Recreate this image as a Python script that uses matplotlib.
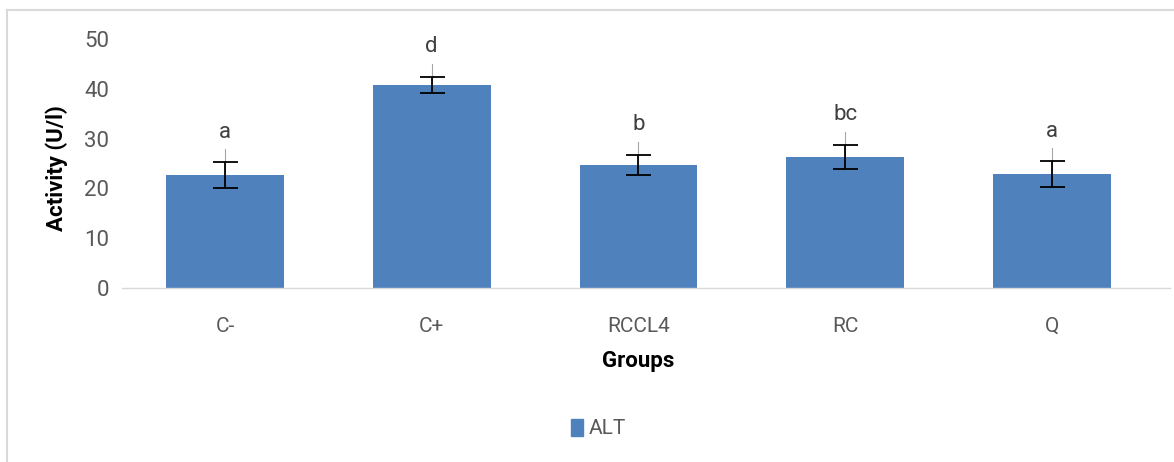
import matplotlib.pyplot as plt
from matplotlib.lines import Line2D
from matplotlib.patches import Patch

groups = ['C-', 'C+', 'RCCL4', 'RC', 'Q']
alt = [22.7, 40.8, 24.7, 26.3, 22.9]
alt_err = [2.6, 1.6, 2.1, 2.5, 2.6]
letters = ['a', 'd', 'b', 'bc', 'a']

plt.rcParams['font.family'] = ['Roboto', 'DejaVu Sans']

fig = plt.figure(figsize=(11.74, 4.62), dpi=100)
ax = fig.add_axes([0.1035, 0.3766, 0.8807, 0.539])

x = list(range(len(groups)))
ax.bar(x, alt, width=0.57, color='#4f81bd', zorder=2)

# leader lines from bar to letter
for i in x:
    ax.plot([i, i], [alt[i], alt[i] + alt_err[i] + 2.6], color='#a6a6a6', lw=0.8, zorder=3)
    ax.text(i, alt[i] + alt_err[i] + 6, letters[i], ha='center', va='center',
            fontsize=16, color='#404040')

ax.errorbar(x, alt, yerr=alt_err, fmt='none', ecolor='black', elinewidth=1.3,
            capsize=9, capthick=1.3, zorder=4)

ax.set_xlim(-0.5, len(groups) - 0.5)
ax.set_ylim(0, 50)
ax.set_yticks([0, 10, 20, 30, 40, 50])
ax.set_xticks(x)
ax.set_xticklabels(groups)
ax.tick_params(axis='y', length=0, pad=9, labelsize=16, labelcolor='#595959')
ax.tick_params(axis='x', length=0, pad=21, labelsize=15, labelcolor='#595959')
for s in ['top', 'right', 'left', 'bottom']:
    ax.spines[s].set_visible(False)
# x axis line runs a bit past the last category
ax.plot([0, 1.014], [0, 0], transform=ax.transAxes, color='#d9d9d9', lw=1, clip_on=False)

ax.set_ylabel('Activity (U/l)', fontsize=16, fontweight='bold')
ax.yaxis.set_label_coords(-0.052, 0.48)
ax.set_xlabel('Groups', fontsize=16, fontweight='bold', labelpad=10)

leg = fig.legend(handles=[Patch(color='#4f81bd', label='ALT')], loc='center',
                 bbox_to_anchor=(0.51, 0.072), frameon=False, fontsize=15,
                 handlelength=0.55, handleheight=0.85, handletextpad=0.3)
for t in leg.get_texts():
    t.set_color('#595959')

# chart border (cut off at right and bottom)
fig.add_artist(Line2D([7 / 1174, 7 / 1174], [0, 1 - 10 / 462], color='#d9d9d9', lw=1.5))
fig.add_artist(Line2D([7 / 1174, 1], [1 - 10 / 462, 1 - 10 / 462], color='#d9d9d9', lw=1.5))

fig.savefig('out.png', dpi=100)
